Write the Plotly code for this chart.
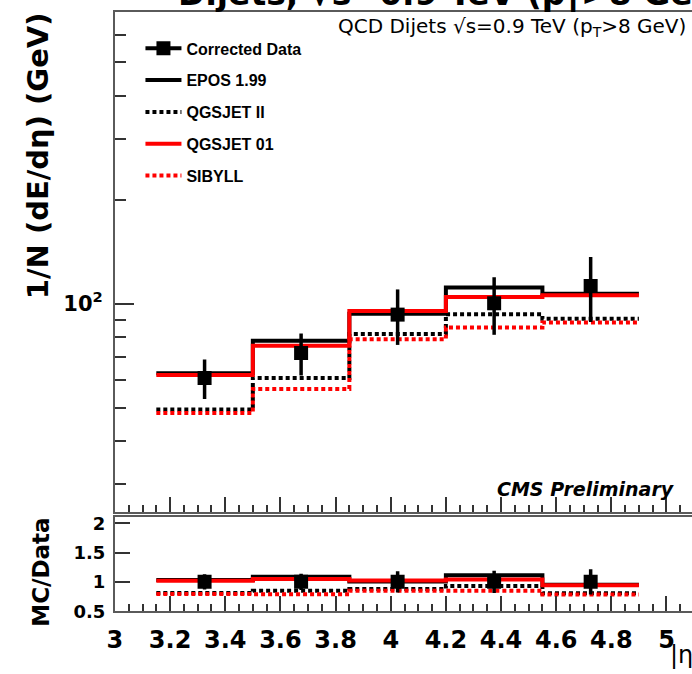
import math
import plotly.graph_objects as go

# |eta| binning of the forward calorimeter measurement
bin_edges = [3.15, 3.5, 3.85, 4.2, 4.55, 4.9]
bin_centers = [3.325, 3.675, 4.025, 4.375, 4.725]

# 1/N dE/deta (GeV) per bin
data_values = [61.0, 72.0, 93.0, 100.3, 112.5]
data_errors = [8.0, 10.0, 17.0, 19.0, 24.0]
epos_199 = [62.9, 78.2, 93.5, 111.5, 106.9]
qgsjet_ii = [49.4, 61.0, 81.7, 93.2, 90.5]
qgsjet_01 = [62.2, 75.6, 95.3, 104.5, 105.8]
sibyll = [48.3, 56.7, 78.9, 85.3, 88.2]

# axis labelling
main_minor_ticks = [30, 40, 50, 60, 70, 80, 90, 200, 300, 400, 500, 600]
ratio_ticks = [0.5, 1, 1.5, 2]
x_ticks = [3, 3.2, 3.4, 3.6, 3.8, 4, 4.2, 4.4, 4.6, 4.8, 5]

W, H = 692, 674
LEFT = 108.2
PX_PER_UNIT = 279.0
X_RANGE = [3.0, 3.0 + (W - LEFT) / PX_PER_UNIT]

MAIN_TOP, MAIN_BOT = 7.3, 518.3
RAT_TOP, RAT_BOT = 524.0, 620.0

AXIS_COL = "#5a5a5a"
TICK_COL = "#333333"
BOLD = "DejaVu Sans"


def py(px):
    """pixel row -> paper fraction"""
    return (H - px) / H


def px_x(px):
    return px / W


def step_xy(values):
    return bin_edges, list(values) + [values[-1]]


models = [
    ("EPOS 1.99", epos_199, "black", "solid", 2),
    ("QGSJET II", qgsjet_ii, "black", "4px,3px", 3),
    ("QGSJET 01", qgsjet_01, "#ff0000", "solid", 4),
    ("SIBYLL", sibyll, "#ff0000", "4px,3px", 5),
]

fig = go.Figure()

for name, vals, col, dash, rank in models:
    sx, sy = step_xy(vals)
    fig.add_trace(go.Scatter(
        x=sx, y=sy, mode="lines", line_shape="hv",
        line=dict(color=col, width=4, dash=dash),
        name=name, legendgroup=name, legendrank=rank,
        xaxis="x", yaxis="y", hoverinfo="skip",
    ))
    ratio = [m / d for m, d in zip(vals, data_values)]
    rx, ry = step_xy(ratio)
    fig.add_trace(go.Scatter(
        x=rx, y=ry, mode="lines", line_shape="hv",
        line=dict(color=col, width=4, dash=dash),
        showlegend=False, legendgroup=name,
        xaxis="x2", yaxis="y2", hoverinfo="skip",
    ))

fig.add_trace(go.Scatter(
    x=bin_centers, y=data_values, mode="markers",
    marker=dict(symbol="square", size=14, color="black"),
    error_y=dict(type="data", array=data_errors, color="black",
                 thickness=3.5, width=0),
    showlegend=False, legendgroup="data",
    xaxis="x", yaxis="y",
))
# legend entry drawn as marker with a bar through it
fig.add_trace(go.Scatter(
    x=[None], y=[None], mode="lines+markers",
    line=dict(color="black", width=4),
    marker=dict(symbol="square", size=14, color="black"),
    name="Corrected Data", legendgroup="data", legendrank=1,
    xaxis="x", yaxis="y",
))
fig.add_trace(go.Scatter(
    x=bin_centers, y=[1.0] * len(data_values), mode="markers",
    marker=dict(symbol="square", size=14, color="black"),
    error_y=dict(type="data", array=[e / v for e, v in zip(data_errors, data_values)],
                 color="black", thickness=3.5, width=0),
    showlegend=False, xaxis="x2", yaxis="y2",
))

common_x = dict(
    range=X_RANGE, domain=[px_x(LEFT), 1.0],
    showline=True, linecolor=AXIS_COL, linewidth=2, mirror=True,
    showgrid=False, zeroline=False,
    ticks="inside", ticklen=15, tickwidth=1.5, tickcolor=TICK_COL,
    tickmode="array", tickvals=x_ticks,
    minor=dict(ticks="inside", ticklen=7, tickwidth=1.5, tickcolor=TICK_COL,
               dtick=0.05, tick0=3.0, showgrid=False),
)

fig.update_layout(
    width=W, height=H,
    margin=dict(l=0, r=0, t=0, b=0),
    paper_bgcolor="white", plot_bgcolor="white",
    showlegend=True,
    legend=dict(
        x=px_x(134), y=py(27), xanchor="left", yanchor="top",
        font=dict(family="Liberation Sans", size=16, color="black", weight="bold"),
        bgcolor="rgba(0,0,0,0)", traceorder="grouped", tracegroupgap=8,
        itemwidth=36,
    ),
    xaxis=dict(common_x, anchor="y", showticklabels=False),
    yaxis=dict(
        type="log", range=[math.log10(25), math.log10(698)],
        domain=[py(MAIN_BOT), py(MAIN_TOP)], anchor="x",
        showline=True, linecolor=AXIS_COL, linewidth=2, mirror=False,
        showgrid=False, zeroline=False,
        ticks="inside", ticklen=19, tickwidth=1.5, tickcolor=TICK_COL,
        tickmode="array", tickvals=[100], ticktext=["10<sup>2</sup>"],
        tickfont=dict(family=BOLD, size=21, color="black", weight="bold"),
        ticklabelstandoff=6,
        minor=dict(ticks="inside", ticklen=11, tickwidth=1.5, tickcolor=TICK_COL,
                   tickmode="array", tickvals=main_minor_ticks, showgrid=False),
    ),
    xaxis2=dict(
        common_x, anchor="y2", showticklabels=True,
        tickfont=dict(family=BOLD, size=24, color="black", weight="bold"),
        ticklabelstandoff=6,
    ),
    yaxis2=dict(
        range=[0.5, 0.5 + (RAT_BOT - RAT_TOP) / 60.0],
        domain=[py(RAT_BOT), py(RAT_TOP)], anchor="x2",
        showline=True, linecolor=AXIS_COL, linewidth=2, mirror=False,
        showgrid=False, zeroline=False,
        ticks="inside", ticklen=15, tickwidth=1.5, tickcolor=TICK_COL,
        tickmode="array", tickvals=ratio_ticks, ticktext=["0.5", "1", "1.5", "2"],
        tickfont=dict(family=BOLD, size=18, color="black", weight="bold"),
        ticklabelstandoff=4,
    ),
)

annotations = [
    # overall title, mostly above the page edge
    dict(text="Dijets, \u221as=0.9 TeV (p<sub>T</sub>>8 GeV)",
         x=px_x(170), y=py(14), xanchor="left", yanchor="bottom",
         font=dict(family=BOLD, size=33, color="black", weight="bold")),
    dict(text="QCD Dijets \u221as=0.9 TeV (p<sub>T</sub>>8 GeV)",
         x=px_x(688), y=py(22), xanchor="right", yanchor="middle",
         font=dict(family="DejaVu Sans", size=20, color="black")),
    dict(text="CMS Preliminary",
         x=px_x(677), y=py(495), xanchor="right", yanchor="middle",
         font=dict(family=BOLD, size=19, color="black", weight="bold", style="italic")),
    dict(text="1/N (dE/d\u03b7) (GeV)", textangle=-90,
         x=px_x(30), y=py(154), xanchor="center", yanchor="middle",
         font=dict(family=BOLD, size=29, color="black", weight="bold")),
    dict(text="MC/Data", textangle=-90,
         x=px_x(33), y=py(580), xanchor="center", yanchor="middle",
         font=dict(family=BOLD, size=23, color="black", weight="bold")),
    dict(text="|\u03b7|",
         x=px_x(668), y=py(665), xanchor="left", yanchor="middle",
         font=dict(family="DejaVu Sans", size=24, color="black")),
]
for a in annotations:
    a.update(xref="paper", yref="paper", showarrow=False)
fig.update_layout(annotations=annotations)

fig.write_html("out.html")
